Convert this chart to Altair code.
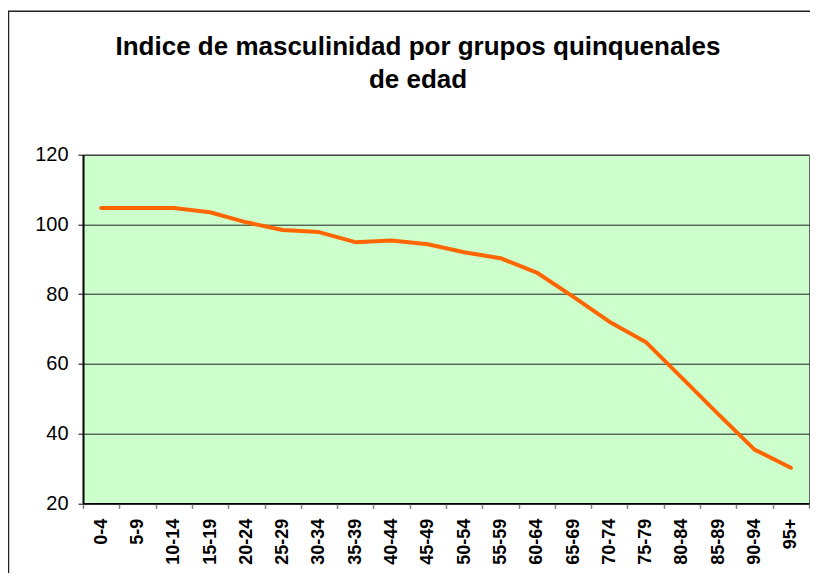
import altair as alt
import pandas as pd

grupos = ["0-4", "5-9", "10-14", "15-19", "20-24", "25-29", "30-34", "35-39",
          "40-44", "45-49", "50-54", "55-59", "60-64", "65-69", "70-74",
          "75-79", "80-84", "85-89", "90-94", "95+"]
indice = [104.7, 104.7, 104.7, 103.5, 100.6, 98.4, 97.8, 94.9, 95.4, 94.3,
          92.0, 90.3, 86.2, 79.3, 72.1, 66.3, 56.0, 45.6, 35.4, 30.2]
y_ticks = [20, 40, 60, 80, 100, 120]
titulo = ["Indice de masculinidad por grupos quinquenales", "de edad"]

df = pd.DataFrame({"grupo": grupos, "indice": indice})

line = alt.Chart(df).mark_line(color="#FF6600", strokeWidth=4, strokeCap="round",
                               strokeJoin="round").encode(
    x=alt.X("grupo:N", sort=grupos, bandPosition=0.5,
            scale=alt.Scale(type="band", paddingInner=0, paddingOuter=0),
            axis=alt.Axis(title=None, labelAngle=-90, labelFont="Liberation Sans",
                          labelFontWeight="bold", labelFontSize=18, labelColor="black",
                          labelPadding=10, tickBand="extent", tickSize=5,
                          tickColor="#808080", tickWidth=1.5, domainColor="black",
                          domainWidth=1.5, labelOverlap=False, labelBound=False,
                          grid=False)),
    y=alt.Y("indice:Q", scale=alt.Scale(domain=[20, 120], nice=False, zero=False),
            axis=alt.Axis(title=None, values=y_ticks, labelFont="Liberation Sans",
                          labelFontSize=20, labelColor="black", labelPadding=10,
                          tickSize=5, tickColor="black", domainColor="black",
                          domainWidth=2, grid=True, gridColor="#222222",
                          gridWidth=1)),
)

frame = alt.Chart(pd.DataFrame({"k": [0]})).mark_rect(
    fill=None, stroke="#222222", strokeWidth=1.5, clip=False).encode(
    x=alt.value(-74.5), x2=alt.value(740), y=alt.value(-143.5), y2=alt.value(440)
)

chart = alt.layer(frame, line).properties(
    width=726, height=348.6,
    background="white",
    title=alt.TitleParams(titulo, font="Liberation Sans", fontSize=26,
                          fontWeight="bold", color="black", lineHeight=33.5,
                          anchor="middle", baseline="alphabetic", offset=0,
                          dx=-28, dy=104),
    autosize=alt.AutoSizeParams(type="none"),
    padding={"left": 75, "top": 146.7, "right": 1, "bottom": 70},
).configure_view(fill="#CCFFCC", stroke="#666666", strokeWidth=1)

chart.save("out.html", embed_options={"renderer": "svg", "actions": False})
